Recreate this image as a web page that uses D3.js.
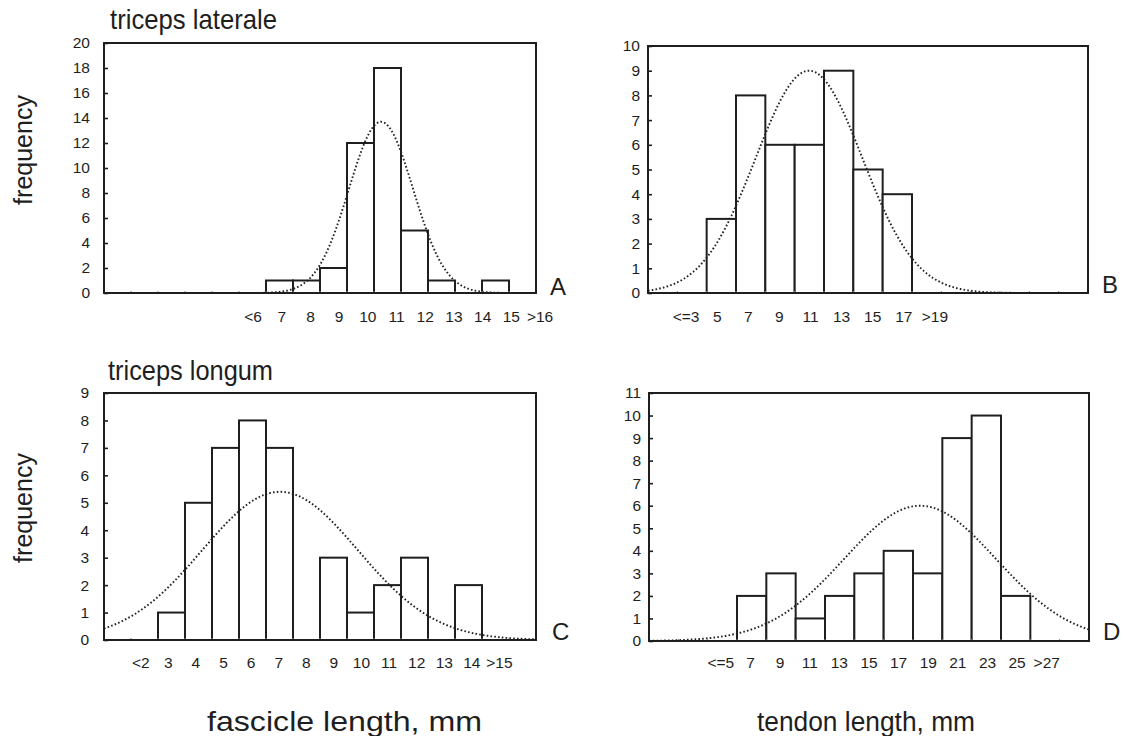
<!DOCTYPE html>
<html>
<head>
<meta charset="utf-8">
<script src="https://cdn.jsdelivr.net/npm/d3@7"></script>
<style>
  html, body { margin: 0; padding: 0; background: #fff; }
  svg { display: block; }
  text { font-family: "Liberation Sans", Arial, Helvetica, sans-serif; fill: #1e1e1e; }
</style>
</head>
<body>
<svg id="chart" width="1125" height="736"></svg>
<script>
// ---------------- data ----------------
// counts per histogram bin (bin index 0..n-1)
const countsA = [0, 0, 0, 0, 0, 0, 1, 1, 2, 12, 18, 5, 1, 0, 1, 0];
const countsB = [0, 0, 3, 8, 6, 6, 9, 5, 4, 0, 0, 0, 0, 0, 0];
const countsC = [0, 0, 1, 5, 7, 8, 7, 0, 3, 1, 2, 3, 0, 2, 0, 0];
const countsD = [0, 0, 0, 2, 3, 1, 2, 3, 4, 3, 9, 10, 2, 0, 0];

// category (x tick) labels
const labelsA = ["<6", "7", "8", "9", "10", "11", "12", "13", "14", "15", ">16"];
const labelsB = ["<=3", "5", "7", "9", "11", "13", "15", "17", ">19"];
const labelsC = ["<2", "3", "4", "5", "6", "7", "8", "9", "10", "11", "12", "13", "14", ">15"];
const labelsD = ["<=5", "7", "9", "11", "13", "15", "17", "19", "21", "23", "25", ">27"];

// fitted normal curves (in bin units): mean, sd, peak frequency
const fitA = [10.26, 1.19, 13.7];
const fitB = [5.49, 1.82, 9.0];
const fitC = [6.52, 2.88, 5.4];
const fitD = [9.24, 2.59, 6.0];

// y axis maxima and tick steps
const yMaxes = [20, 10, 9, 11];
const yStepsArr = [2, 1, 1, 1];

// texts
const panelLetters = ["A", "B", "C", "D"];
const titles = ["triceps laterale", "", "triceps longum", ""];
const yTitle = "frequency";
const xTitles = ["fascicle length, mm", "tendon length, mm"];

// ---------------- layout ----------------
const layout = [
  { x0: 104, x1: 536, y0: 43, y1: 293, labStart: 5.52, labStep: 1.063, yPad: 14, lx: 550, ly: 295, labY: 322 },
  { x0: 648, x1: 1088, y0: 46, y1: 293, labStart: 1.30, labStep: 1.06, yPad: 8, lx: 1102, ly: 293, labY: 322 },
  { x0: 104, x1: 536, y0: 393, y1: 640, labStart: 1.36, labStep: 1.022, yPad: 15, lx: 552, ly: 640, labY: 668 },
  { x0: 649, x1: 1089, y0: 393, y1: 641, labStart: 2.45, labStep: 1.01, yPad: 8, lx: 1103, ly: 640, labY: 668 }
];

const counts = [countsA, countsB, countsC, countsD];
const labels = [labelsA, labelsB, labelsC, labelsD];
const fits = [fitA, fitB, fitC, fitD];

const svg = d3.select("#chart");
const ink = "#1e1e1e";
const tickFont = 15.5;

counts.forEach((cnt, p) => {
  const L = layout[p];
  const n = cnt.length;
  const x = d3.scaleLinear().domain([0, n]).range([L.x0, L.x1]);
  const y = d3.scaleLinear().domain([0, yMaxes[p]]).range([L.y1, L.y0]);
  const g = svg.append("g");

  // bars
  const bins = cnt.map((v, i) => ({ i, v })).filter(d => d.v > 0);
  g.selectAll("rect.bar").data(bins).join("rect")
    .attr("class", "bar")
    .attr("x", d => x(d.i))
    .attr("width", d => x(d.i + 1) - x(d.i))
    .attr("y", d => y(d.v))
    .attr("height", d => y(0) - y(d.v))
    .attr("fill", "#fff")
    .attr("stroke", ink)
    .attr("stroke-width", 2);

  // fitted normal curve
  const [mu, sd, pk] = fits[p];
  const pts = d3.range(0, n + 0.001, 0.05).map(t => [t, pk * Math.exp(-0.5 * ((t - mu) / sd) ** 2)]);
  g.append("path")
    .datum(pts)
    .attr("fill", "none")
    .attr("stroke", "#222")
    .attr("stroke-width", 1.9)
    .attr("stroke-dasharray", "1.6,2.2")
    .attr("d", d3.line().x(d => x(d[0])).y(d => y(d[1])));

  // y axis
  const yAxis = d3.axisLeft(y)
    .tickValues(d3.range(0, yMaxes[p] + 0.001, yStepsArr[p]))
    .tickSizeInner(-4).tickSizeOuter(0).tickPadding(L.yPad)
    .tickFormat(d3.format("d"));
  const ya = g.append("g").attr("transform", `translate(${L.x0},0)`).call(yAxis);
  ya.select(".domain").remove();
  ya.selectAll(".tick line").attr("stroke", ink).attr("stroke-width", 1.6);
  ya.selectAll(".tick text").attr("font-size", tickFont).attr("fill", ink)
    .style("font-family", "'Liberation Sans', Arial, sans-serif");

  // small x ticks at bin edges (inward)
  g.selectAll("line.xt").data(d3.range(1, n)).join("line")
    .attr("x1", d => x(d)).attr("x2", d => x(d))
    .attr("y1", L.y1).attr("y2", L.y1 - 2)
    .attr("stroke", "#888").attr("stroke-width", 1);

  // x tick labels
  g.selectAll("text.xl").data(labels[p]).join("text")
    .attr("class", "xl")
    .attr("x", (d, i) => x(L.labStart + i * L.labStep))
    .attr("y", L.labY)
    .attr("text-anchor", "middle")
    .attr("font-size", tickFont)
    .text(d => d);

  // frame
  g.append("rect")
    .attr("x", L.x0).attr("y", L.y0)
    .attr("width", L.x1 - L.x0).attr("height", L.y1 - L.y0)
    .attr("fill", "none").attr("stroke", ink).attr("stroke-width", 2);

  // panel letter
  g.append("text").attr("x", L.lx).attr("y", L.ly)
    .attr("font-size", 24).text(panelLetters[p]);
});

// titles
svg.append("text").attr("x", 110).attr("y", 29).attr("font-size", 28)
  .attr("textLength", 167).attr("lengthAdjust", "spacingAndGlyphs").text(titles[0]);
svg.append("text").attr("x", 108).attr("y", 380).attr("font-size", 28)
  .attr("textLength", 165).attr("lengthAdjust", "spacingAndGlyphs").text(titles[2]);

// y titles
[150, 508].forEach(cy => {
  svg.append("text")
    .attr("transform", `translate(32,${cy}) rotate(-90)`)
    .attr("text-anchor", "middle")
    .attr("font-size", 25)
    .text(yTitle);
});

// x titles
svg.append("text").attr("x", 207).attr("y", 731).attr("font-size", 28)
  .attr("textLength", 275).attr("lengthAdjust", "spacingAndGlyphs").text(xTitles[0]);
svg.append("text").attr("x", 757).attr("y", 731).attr("font-size", 27)
  .attr("textLength", 218).attr("lengthAdjust", "spacingAndGlyphs").text(xTitles[1]);
</script>
</body>
</html>
